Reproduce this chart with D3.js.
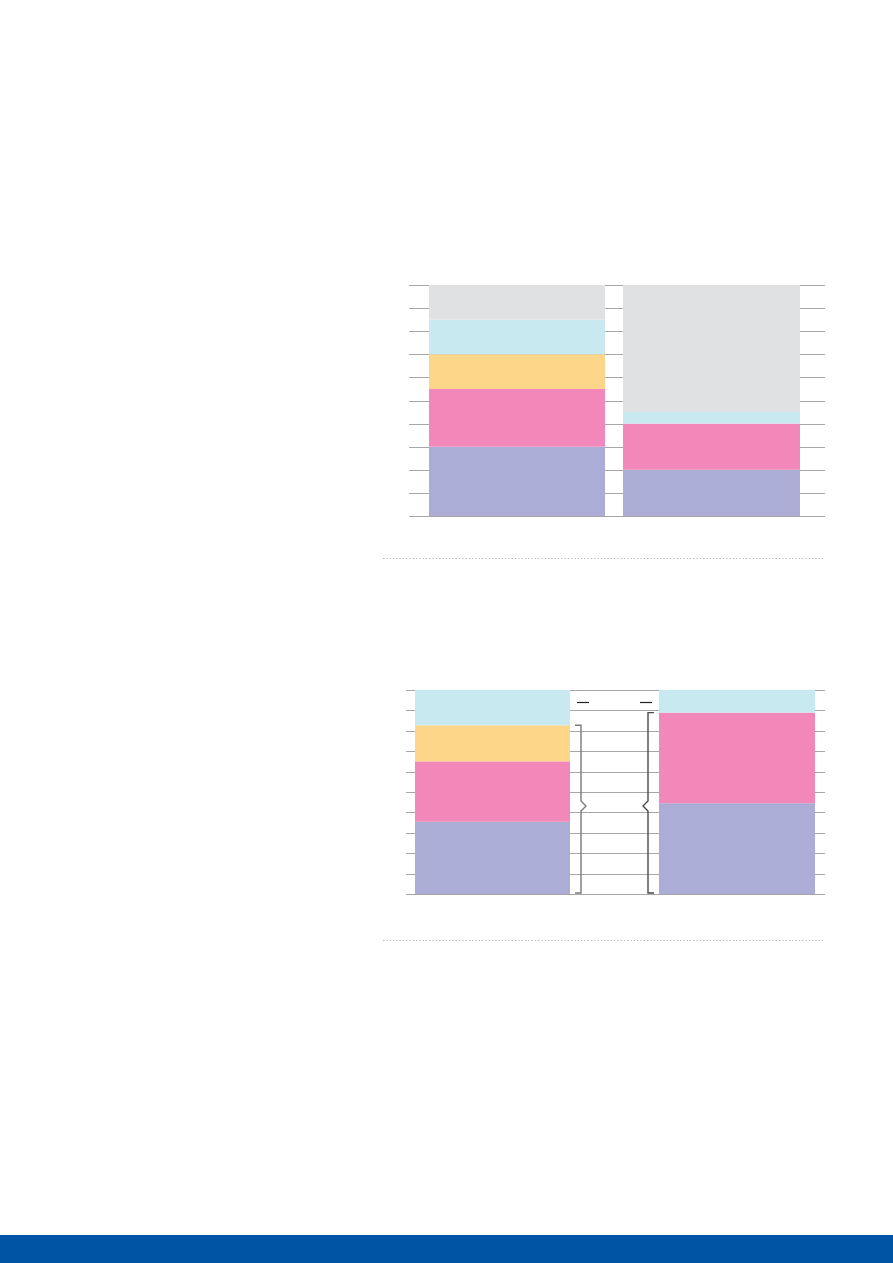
<!DOCTYPE html>
<html><head><meta charset="utf-8">
<script src="https://cdn.jsdelivr.net/npm/d3@7"></script>
<style>body{margin:0;background:#fff}svg{display:block}</style>
</head><body>
<script>
// Data (percent shares, bottom to top)
const seriesNames = ["purple","pink","yellow","cyan","gray"];
const chart1Categories = ["A","B"];
const chart1Purple = [30, 20];
const chart1Pink   = [25, 20];
const chart1Yellow = [15, 0];
const chart1Cyan   = [15, 5];
const chart1Gray   = [15, 55];

const chart2Categories = ["A","B"];
const chart2Purple = [35.4, 44.5];
const chart2Pink   = [29.6, 44.4];
const chart2Yellow = [17.7, 0];
const chart2Cyan   = [17.3, 11.1];
const chart2Gray   = [0, 0];

const yTicks = [0,10,20,30,40,50,60,70,80,90,100];

const colors = {purple:"#abadd6", pink:"#f288b9", yellow:"#fdd68a", cyan:"#c8e9f0", gray:"#e0e1e3"};

const W = 893, H = 1263;
const svg = d3.select("body").append("svg").attr("width", W).attr("height", H);

function buildRows(cats, arrs){
  return cats.map((c,i)=>{
    const r = {cat:c};
    seriesNames.forEach((s,k)=> r[s] = arrs[k][i]);
    return r;
  });
}

function drawChart(cfg){
  const g = svg.append("g");
  const y = d3.scaleLinear().domain([0,100]).range([cfg.bottom, cfg.top]);
  g.append("g").selectAll("line").data(yTicks).join("line")
    .attr("x1", cfg.gridX0).attr("x2", cfg.gridX1)
    .attr("y1", d=>Math.round(y(d))+0.5).attr("y2", d=>Math.round(y(d))+0.5)
    .attr("stroke", "#a7a7a9").attr("stroke-width", 1.2);
  const rows = buildRows(cfg.cats, cfg.arrs);
  const stack = d3.stack().keys(seriesNames)(rows);
  const x = d3.scaleOrdinal().domain(cfg.cats).range(cfg.barX);
  g.append("g").selectAll("g").data(stack).join("g")
    .attr("fill", d=>colors[d.key])
    .selectAll("rect").data(d=>d).join("rect")
    .attr("x", d=>x(d.data.cat)[0])
    .attr("width", d=>x(d.data.cat)[1]-x(d.data.cat)[0])
    .attr("y", d=>y(d[1]))
    .attr("height", d=>Math.max(0, y(d[0])-y(d[1])));
  return {g, y};
}

drawChart({top:285, bottom:516, gridX0:409, gridX1:825,
  cats: chart1Categories,
  arrs:[chart1Purple, chart1Pink, chart1Yellow, chart1Cyan, chart1Gray],
  barX:[[429,605],[623,800]]});

const c2 = drawChart({top:690, bottom:894, gridX0:406, gridX1:825,
  cats: chart2Categories,
  arrs:[chart2Purple, chart2Pink, chart2Yellow, chart2Cyan, chart2Gray],
  barX:[[415,570],[659,815]]});

const y2 = c2.y;
const leftTop = y2(chart2Purple[0]+chart2Pink[0]+chart2Yellow[0]);
const rightTop = y2(chart2Purple[1]+chart2Pink[1]+chart2Yellow[1]);
const base = y2(0) - 1;
const braceMid = 806;
function brace(xv, yTop, yBot, dir, color){
  const p = d3.path();
  p.moveTo(xv - 6*dir, yTop); p.lineTo(xv, yTop);
  p.lineTo(xv, braceMid-5); p.lineTo(xv+5*dir, braceMid); p.lineTo(xv, braceMid+5);
  p.lineTo(xv, yBot); p.lineTo(xv - 6*dir, yBot);
  svg.append("path").attr("d", p.toString()).attr("fill","none")
    .attr("stroke", color).attr("stroke-width", 1.4);
}
brace(581, leftTop, base, 1, "#7a7a7a");
brace(648, rightTop, base, -1, "#4a4a4a");
svg.append("line").attr("x1",577).attr("x2",589).attr("y1",702.5).attr("y2",702.5).attr("stroke","#222").attr("stroke-width",1.2);
svg.append("line").attr("x1",640).attr("x2",652).attr("y1",702.5).attr("y2",702.5).attr("stroke","#222").attr("stroke-width",1.2);

[558.5, 940.5].forEach(yy=>{
  svg.append("line").attr("x1",383).attr("x2",825).attr("y1",yy).attr("y2",yy)
    .attr("stroke","#b8b8b8").attr("stroke-width",1.2).attr("stroke-dasharray","1.3,2");
});

svg.append("rect").attr("x",0).attr("y",1235).attr("width",W).attr("height",H-1235).attr("fill","#0054a4");
</script>
</body></html>
